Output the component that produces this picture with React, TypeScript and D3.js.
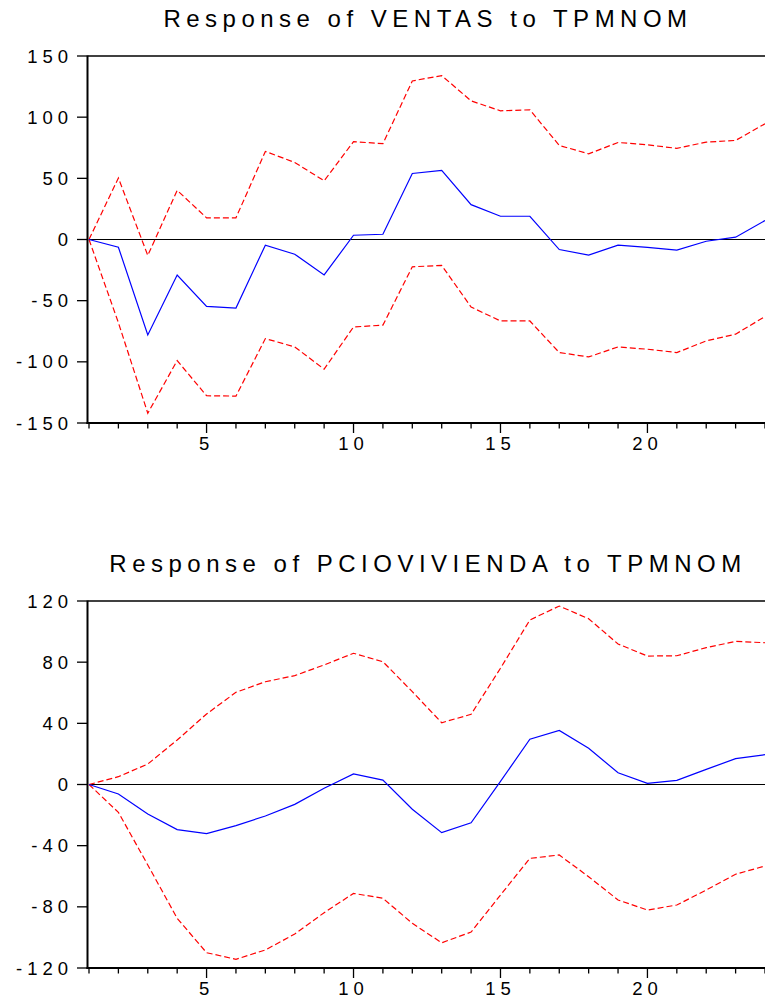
import * as d3 from "d3";

const periods = d3.range(1, 25);

// Response of VENTAS to TPMNOM
const ventasIrf = [0, -6.3, -78, -29, -54.6, -56, -4.6, -12, -29, 3.5, 4.3, 54, 56.5, 28.5, 19, 19, -8.2, -12.8, -4.6, -6.5, -8.7, -1.4, 1.9, 15.5];
const ventasUpper = [0, 50.3, -13, 40.2, 17.7, 17.7, 72, 63, 48, 80, 78.3, 129.6, 134, 113.3, 105.2, 106, 76.9, 70, 79.3, 77.4, 74.5, 79.6, 81, 94.6];
const ventasLower = [0, -68, -142, -99, -127.7, -128, -81, -87.8, -106, -71.5, -70, -22.3, -21.2, -55.2, -66.6, -66.6, -92.4, -96, -87.8, -89.7, -92.4, -82.9, -77.4, -63];

// Response of PCIOVIVIENDA to TPMNOM
const pcioIrf = [0, -6.2, -19.3, -29.5, -32.1, -26.9, -20.6, -13, -2.5, 6.9, 2.9, -16.2, -31.5, -25, 2, 29.6, 35.4, 23.7, 7.7, 0.8, 2.7, 9.9, 16.9, 19.5];
const pcioUpper = [0, 5.1, 13.4, 29.1, 46.1, 60.3, 67.2, 71.2, 78.2, 85.8, 80.3, 60.7, 40.4, 45.9, 76, 107.6, 116.7, 108.4, 91.9, 84, 84.2, 89.5, 93.6, 92.7];
const pcioLower = [0, -18.2, -52.6, -87.5, -110, -114.3, -108.2, -97.8, -83.8, -71.2, -74.4, -90.8, -103.5, -96.5, -72.3, -48.3, -46.1, -60.3, -75.5, -82.1, -78.8, -69, -58.7, -53.3];

const ventasTicks = [-150, -100, -50, 0, 50, 100, 150];
const pcioTicks = [-120, -80, -40, 0, 40, 80, 120];
const xLabels = [5, 10, 15, 20];

const FONT = "Arial, 'Liberation Sans', sans-serif";

interface PanelProps {
  title: string;
  irf: number[];
  upper: number[];
  lower: number[];
  yTicks: number[];
  top: number;
  bottom: number;
  titleY: number;
}

function Panel({ title, irf, upper, lower, yTicks, top, bottom, titleY }: PanelProps) {
  const left = 89;
  const right = 765;
  const x = d3.scaleLinear().domain([1, 24]).range([left, right]);
  const y = d3
    .scaleLinear()
    .domain([yTicks[0], yTicks[yTicks.length - 1]])
    .range([bottom, top]);

  const line = d3
    .line<number>()
    .x((_, i) => x(periods[i]))
    .y((d) => y(d));

  return (
    <g>
      <text
        x={428}
        y={titleY}
        textAnchor="middle"
        fontFamily={FONT}
        fontSize={24}
        letterSpacing={5.5}
        fill="#000"
      >
        {title}
      </text>

      {/* top border and zero line */}
      <line x1={left - 1} x2={right} y1={top} y2={top} stroke="#000" strokeWidth={1.3} />
      <line x1={left} x2={right} y1={y(0)} y2={y(0)} stroke="#000" strokeWidth={1.1} />

      {/* lines */}
      <path d={line(upper) || ""} fill="none" stroke="#ff0000" strokeWidth={1.2} strokeDasharray="6,3" />
      <path d={line(lower) || ""} fill="none" stroke="#ff0000" strokeWidth={1.2} strokeDasharray="6,3" />
      <path d={line(irf) || ""} fill="none" stroke="#0000ff" strokeWidth={1.2} />

      {/* y axis */}
      <line x1={left - 1.5} x2={left - 1.5} y1={top - 0.5} y2={bottom + 1} stroke="#000" strokeWidth={2} />
      {yTicks.map((t) => (
        <g key={t}>
          <line x1={left - 12} x2={left - 1} y1={y(t)} y2={y(t)} stroke="#000" strokeWidth={1.3} />
          <text
            x={73}
            y={y(t) + 6.5}
            textAnchor="end"
            fontFamily={FONT}
            fontSize={18.5}
            letterSpacing={5}
            fill="#000"
          >
            {t}
          </text>
        </g>
      ))}

      {/* x axis */}
      <line x1={left - 2.5} x2={right} y1={bottom} y2={bottom} stroke="#000" strokeWidth={2} />
      {periods.map((p) => (
        <line
          key={p}
          x1={x(p)}
          x2={x(p)}
          y1={bottom}
          y2={bottom + (p % 5 === 0 ? 10 : 5.5)}
          stroke="#000"
          strokeWidth={1.3}
        />
      ))}
      {xLabels.map((p) => (
        <text
          key={p}
          x={x(p)}
          y={bottom + 27}
          textAnchor="middle"
          fontFamily={FONT}
          fontSize={18.5}
          letterSpacing={5}
          fill="#000"
        >
          {p}
        </text>
      ))}
    </g>
  );
}

export default function App() {
  return (
    <svg
      width={765}
      height={997}
      style={{ position: "absolute", left: 0, top: 0, display: "block", background: "#fff" }}
    >
      <rect width={765} height={997} fill="#fff" />
      <Panel
        title="Response of VENTAS to TPMNOM"
        irf={ventasIrf}
        upper={ventasUpper}
        lower={ventasLower}
        yTicks={ventasTicks}
        top={56}
        bottom={423}
        titleY={27}
      />
      <Panel
        title="Response of PCIOVIVIENDA to TPMNOM"
        irf={pcioIrf}
        upper={pcioUpper}
        lower={pcioLower}
        yTicks={pcioTicks}
        top={601}
        bottom={968}
        titleY={572}
      />
    </svg>
  );
}
